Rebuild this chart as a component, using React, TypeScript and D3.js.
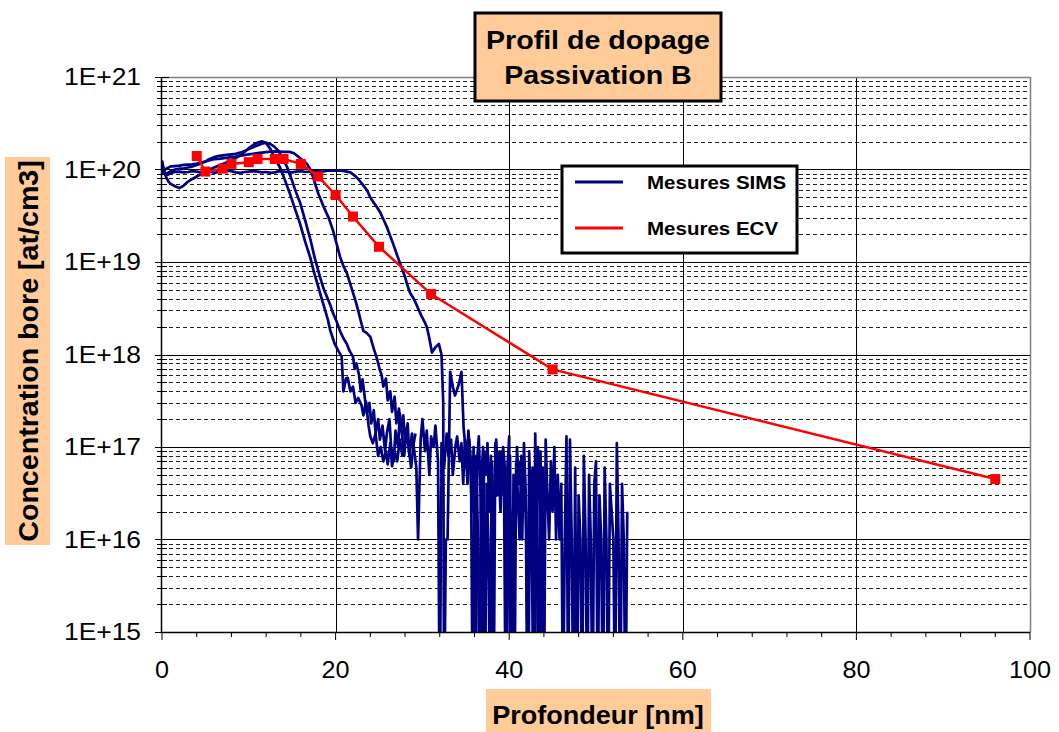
import * as d3 from 'd3';
import React from 'react';

type Pt = [number, number];

// SIMS profiles: [depth (nm), concentration (at/cm3)]; 0 = below detection limit
const simsA: Pt[] = [
  [0, 1.25e20], [0.25, 9.5e19], [0.5, 8.2e19], [0.75, 7.4e19], [1, 7e19], [1.5, 6.6e19], [2, 6.3e19],
  [2.5, 6.7e19], [3, 7.4e19], [3.5, 7.9e19], [4, 8.4e19], [4.5, 8.9e19], [5, 9.4e19], [5.5, 1e20],
  [6, 1.05e20], [6.5, 1.1e20], [7, 1.15e20], [7.5, 1.2e20], [8, 1.26e20], [8.5, 1.33e20], [9, 1.42e20],
  [9.5, 1.55e20], [10, 1.7e20], [10.5, 1.84e20], [11, 1.95e20], [11.5, 2.02e20], [12, 1.92e20],
  [12.5, 1.66e20], [13, 1.32e20], [13.6, 1.05e20], [14.2, 7.5e19], [14.7, 5.6e19], [15.3, 3.8e19],
  [15.9, 2.6e19], [16.5, 1.65e19], [17.1, 1.1e19], [17.5, 7.8e18], [18, 5.4e18], [18.4, 4e18],
  [18.8, 3e18], [19.1, 2.4e18], [19.4, 1.8e18], [19.9, 1.3e18], [20.3, 1.1e18], [20.7, 9.5e17],
  [20.9, 4e17], [21.2, 5.5e17], [21.4, 5.6e17], [21.7, 4e17], [22, 4.5e17], [22.3, 3e17], [22.6, 3.4e17],
  [23, 2.8e17], [23.2, 2.2e17], [23.5, 3.1e17], [23.8, 1.7e17], [24, 1.3e17], [24.3, 1.1e17],
  [24.6, 1.4e17], [24.9, 8e16], [25.2, 1e17], [25.5, 7e16], [25.8, 9e16], [26, 6.5e16], [26.3, 1.1e17],
  [26.5, 6.2e16], [26.8, 9e16], [27.1, 7e16], [27.4, 1.2e17], [27.7, 8e16],
];

const simsB: Pt[] = [
  [0, 1.05e20], [0.25, 9.3e19], [0.5, 9e19], [1, 9.6e19], [1.5, 1e20], [2, 1.02e20], [2.5, 1.03e20],
  [3, 1.05e20], [3.5, 1.08e20], [4, 1.12e20], [4.5, 1.16e20], [5, 1.22e20], [5.5, 1.3e20], [6, 1.36e20],
  [6.5, 1.4e20], [7, 1.42e20], [7.5, 1.44e20], [8, 1.46e20], [8.5, 1.48e20], [9, 1.52e20], [9.5, 1.58e20],
  [10, 1.66e20], [10.5, 1.74e20], [11, 1.82e20], [11.5, 1.9e20], [11.9, 1.95e20], [12.4, 1.9e20],
  [12.9, 1.78e20], [13.4, 1.6e20], [13.9, 1.32e20], [14.4, 1.07e20], [15, 7.5e19], [15.4, 5.8e19],
  [15.9, 4.4e19], [16.5, 2.8e19], [17.1, 1.75e19], [17.6, 1.1e19], [18.2, 6.9e18], [18.6, 5.2e18],
  [19, 4.2e18], [19.4, 3.4e18], [19.7, 2.8e18], [20.1, 2.3e18], [20.5, 1.8e18], [20.9, 1.5e18],
  [21.3, 1.3e18], [21.6, 1.1e18], [22, 9.5e17], [22.2, 7e17], [22.4, 8e17], [22.7, 6e17], [22.9, 4e17],
  [23.1, 5.4e17], [23.4, 3.2e17], [23.6, 2.3e17], [23.9, 3e17], [24.1, 1.8e17], [24.4, 2.5e17],
  [24.6, 1.4e17], [24.9, 2e17], [25.1, 1.2e17], [25.4, 1.7e17], [25.7, 9e16], [25.9, 1.4e17],
  [26.2, 2e17], [26.4, 1e17], [26.7, 7e16], [26.9, 1.5e17], [27.2, 1e17], [27.4, 2.3e17], [27.7, 1.2e17],
  [27.9, 8e16], [28.2, 1.6e17], [28.4, 1e17], [28.7, 6e16], [29, 1.1e17], [29.2, 1.4e17],
];

const simsC: Pt[] = [
  [0, 9e19], [0.25, 9.8e19], [0.5, 1.02e20], [1, 1.08e20], [1.5, 1.09e20], [2, 1.1e20], [2.5, 1.12e20],
  [3, 1.13e20], [3.5, 1.14e20], [4, 1.16e20], [4.5, 1.19e20], [5, 1.22e20], [5.5, 1.26e20], [6, 1.29e20],
  [6.5, 1.3e20], [7, 1.32e20], [7.5, 1.34e20], [8, 1.36e20], [8.5, 1.38e20], [9, 1.41e20], [9.5, 1.43e20],
  [10, 1.46e20], [10.5, 1.48e20], [11, 1.5e20], [11.5, 1.52e20], [12, 1.54e20], [12.5, 1.56e20],
  [13, 1.57e20], [13.5, 1.56e20], [14, 1.55e20], [14.7, 1.55e20], [15.2, 1.5e20], [15.7, 1.38e20],
  [16.2, 1.25e20], [16.7, 1.15e20], [17.1, 1e20], [17.4, 8.3e19], [18, 5.5e19], [18.6, 4e19],
  [19.2, 3e19], [19.7, 2.2e19], [20.1, 1.6e19], [20.5, 1.15e19], [20.9, 9e18], [21.3, 7.6e18],
  [21.9, 5e18], [22.3, 3.8e18], [22.6, 3e18], [22.9, 2.3e18], [23.2, 1.8e18], [23.6, 1.7e18],
  [24, 1.55e18], [24.4, 1.15e18], [24.7, 9.5e17], [25.1, 6.8e17], [25.3, 6e17], [25.5, 4.5e17],
  [25.8, 5.5e17], [26, 3.2e17], [26.3, 4e17], [26.5, 2.4e17], [26.8, 3.5e17], [27, 1.8e17], [27.3, 2.6e17],
  [27.5, 1.5e17], [27.8, 2.2e17], [28, 1.1e17], [28.3, 1.8e17], [28.5, 8e16], [28.8, 1.4e17], [29, 1e17],
  [29.3, 6e16], [29.5, 1e16], [29.8, 1.2e17], [30, 2e17], [30.3, 9e16], [30.5, 1.5e17], [30.8, 5e16],
  [31, 1.3e17], [31.3, 1e17], [31.5, 1.7e17], [31.8, 7e16], [32, 0], [32.2, 1.1e17], [32.5, 6e16],
  [32.8, 1.4e17], [33, 8e16], [33.3, 1.2e17], [33.5, 5e16], [33.8, 1e17], [34, 1.3e17], [34.3, 7e16],
  [34.5, 1.1e17], [34.7, 4e16], [34.9, 1.2e17], [35.1, 6e16], [35.3, 1.5e17], [35.5, 8e16], [35.7, 2e16],
  [35.9, 1e17], [36.1, 0], [36.3, 7e16], [36.5, 1.3e17], [36.7, 3e16], [36.9, 0], [37.1, 9e16],
  [37.3, 5e16], [37.5, 1.1e17], [37.7, 2e16], [37.9, 8e16], [38.1, 0], [38.3, 4e16], [38.5, 1.2e17],
  [38.7, 5e16], [38.9, 9e16], [39.1, 3e16], [39.3, 1e17], [39.5, 6e16], [39.7, 0], [39.9, 2e16],
  [40.1, 8e16], [40.3, 0], [40.5, 5e16], [40.7, 1e16], [40.9, 1e17], [41.1, 4e16], [41.3, 7e16],
  [41.5, 1e16], [41.7, 1.1e17], [41.9, 3e16], [42.1, 0], [42.3, 9e16], [42.5, 2e16], [42.7, 6e16],
  [42.9, 0], [43.1, 1e16], [43.3, 1e17], [43.5, 3e16], [43.7, 0], [43.9, 6e16], [44.1, 2e16],
];

const simsD: Pt[] = [
  [0, 1.2e20], [0.3, 9e19], [0.7, 8.8e19], [1, 9.2e19], [1.5, 9.4e19], [2, 9.5e19], [2.5, 9.3e19],
  [3, 9.4e19], [3.5, 9.6e19], [4, 9.5e19], [4.5, 9.3e19], [5, 9.4e19], [5.5, 9.6e19], [6, 9.2e19],
  [6.5, 9.4e19], [7, 9.5e19], [7.5, 9.7e19], [8, 9.6e19], [8.5, 9.3e19], [9, 9.2e19], [9.5, 9.4e19],
  [10, 9.5e19], [10.5, 9.6e19], [11, 9.5e19], [11.5, 9.3e19], [12, 9.4e19], [12.5, 9.2e19], [13, 9.3e19],
  [13.5, 9.6e19], [14, 9.5e19], [14.5, 9.4e19], [15, 9.3e19], [15.5, 9.5e19], [16, 9.6e19], [16.5, 9.4e19],
  [17, 9.5e19], [17.5, 9.7e19], [18, 9.6e19], [18.5, 9.5e19], [19, 9.7e19], [19.5, 9.8e19], [20, 9.7e19],
  [20.5, 9.8e19], [21, 9.6e19], [21.7, 9.3e19], [22.2, 8.6e19], [22.6, 7.9e19], [23.1, 6.9e19],
  [23.6, 6e19], [24, 5e19], [24.3, 4.5e19], [24.7, 4e19], [25.1, 3.5e19], [25.5, 2.9e19], [25.9, 2.4e19],
  [26.3, 1.9e19], [26.6, 1.6e19], [27, 1.25e19], [27.4, 9.8e18], [28, 6.9e18], [28.3, 5.5e18],
  [28.6, 4.6e18], [29, 4e18], [29.3, 3.5e18], [29.6, 3e18], [29.9, 2.6e18], [30.2, 2.3e18], [30.5, 2e18],
  [30.8, 1.5e18], [31.1, 1.05e18], [31.5, 1.2e18], [31.9, 1.3e18], [32.2, 1e18], [32.4, 3e17], [32.5, 0],
  [32.7, 1e16], [32.9, 1e16], [33.2, 6.5e17], [33.5, 4.5e17], [33.75, 3.6e17], [34, 4.2e17],
  [34.25, 5e17], [34.5, 6.5e17], [34.75, 1.6e17],
  [35, 9e16], [35.2, 4e16], [35.4, 1.2e17], [35.6, 6e16], [35.8, 0], [36, 3e16], [36.2, 8e16], [36.4, 1e16],
  [36.6, 0], [36.8, 5e16], [37, 1e17], [37.2, 0], [37.4, 4e16], [37.6, 1e16], [37.8, 0], [38, 7e16],
  [38.2, 0], [38.4, 1.1e17], [38.6, 3e16], [38.8, 6e16], [39, 2e16], [39.2, 9e16], [39.4, 4e16],
  [39.6, 0], [39.8, 6e16], [40, 1.3e17], [40.2, 0], [40.4, 2e16], [40.6, 0], [40.8, 7e16], [41, 3e16],
  [41.2, 1e16], [41.4, 8e16], [41.6, 2e16], [41.8, 5e16], [42, 1e16], [42.2, 0], [42.4, 6e16],
  [42.6, 1e16], [42.8, 0], [43, 1.4e17], [43.2, 1e16], [43.4, 0], [43.6, 9e16], [43.8, 1e16], [44, 0],
  [44.2, 1.2e17], [44.4, 3e16], [44.6, 1e16], [44.8, 7e16], [45, 2e16], [45.2, 1e17], [45.4, 1e16],
  [45.6, 5e16], [45.8, 1e16], [46, 4e16], [46.2, 0], [46.4, 1e16], [46.6, 1.3e17], [46.8, 0],
  [47, 1.2e17], [47.2, 1e16], [47.4, 0], [47.6, 6e16], [47.8, 0], [48, 3e16], [48.2, 1e16], [48.4, 0],
  [48.6, 8e16], [48.8, 1e16], [49, 0], [49.2, 5e16], [49.4, 1e16], [49.6, 0], [49.8, 4e16], [50, 7e16],
  [50.2, 0], [50.4, 3e16], [50.6, 1e16], [50.8, 0], [51, 6e16], [51.2, 1e16], [51.4, 0], [51.6, 4e16],
  [51.8, 2e16], [52, 1e16], [52.2, 0], [52.4, 1.1e17], [52.6, 1e16], [52.8, 0], [53, 4e16], [53.2, 1e16],
  [53.4, 0], [53.6, 2e16],
];

const simsSeries = [simsA, simsB, simsC, simsD];

// ECV measurements
const ecvDepth = [4, 5, 7, 8, 10, 11, 13, 14, 16, 18, 20, 22, 25, 31, 45, 96];
const ecvConc = [
  1.4e20, 9.5e19, 1.02e20, 1.15e20, 1.2e20, 1.3e20, 1.3e20, 1.3e20, 1.15e20, 8.4e19, 5.3e19, 3.1e19,
  1.46e19, 4.5e18, 6.9e17, 4.5e16,
];

const xTicks = [0, 20, 40, 60, 80, 100];
const yDecades = [1e15, 1e16, 1e17, 1e18, 1e19, 1e20, 1e21];
const yTickLabels = ['1E+15', '1E+16', '1E+17', '1E+18', '1E+19', '1E+20', '1E+21'];

const titleLines = ['Profil de dopage', 'Passivation B'];
const legendLabels = ['Mesures SIMS', 'Mesures ECV'];

const FONT = "Arial, 'Liberation Sans', sans-serif";
const ORANGE = '#FFCC99';
const NAVY = '#000080';
const RED = '#FF0000';

interface STextProps {
  x: number;
  y: number;
  size: number;
  sx?: number;
  bold?: boolean;
  anchor?: 'start' | 'middle' | 'end';
  rotate?: number;
  children: React.ReactNode;
}

// text slightly stretched horizontally, like the original picture
const SText: React.FC<STextProps> = ({ x, y, size, sx = 1.1, bold = false, anchor = 'middle', rotate, children }) => (
  <text
    transform={`translate(${x},${y})${rotate ? ` rotate(${rotate})` : ''} scale(${sx},1)`}
    textAnchor={anchor}
    fontSize={size}
    fontWeight={bold ? 'bold' : 'normal'}
    fontFamily={FONT}
    fill="#000"
  >
    {children}
  </text>
);

const App: React.FC = () => {
  const width = 1059;
  const height = 732;
  const margin = { top: 77, left: 162, right: 29, bottom: 100 };
  const innerWidth = width - margin.left - margin.right;
  const innerHeight = height - margin.top - margin.bottom;

  const x = d3.scaleLinear().domain([0, 100]).range([0, innerWidth]);
  const y = d3.scaleLog().domain([1e15, 1e21]).range([innerHeight, 0]);

  const line = d3
    .line<Pt>()
    .x((d) => x(d[0]))
    .y((d) => y(Math.max(d[1], 1e14)));

  const ecvPoints: Pt[] = ecvDepth.map((d, i) => [d, ecvConc[i]]);

  const minorY: number[] = [];
  yDecades.slice(0, -1).forEach((dec) => {
    for (let k = 2; k <= 9; k++) minorY.push(dec * k);
  });
  const minorX = d3.range(0, 101, 4).filter((v) => v % 20 !== 0);

  return (
    <svg
      width={width}
      height={height}
      style={{ position: 'absolute', left: 0, top: 0, background: '#fff' }}
      role="img"
      aria-label="Profil de dopage"
    >
      <defs>
        <clipPath id="plot-clip">
          <rect x={0} y={-4} width={innerWidth} height={innerHeight + 4} />
        </clipPath>
      </defs>

      <g transform={`translate(${margin.left},${margin.top})`}>
        {/* minor dashed grid */}
        {minorY.map((v) => (
          <line
            key={`my-${v}`}
            x1={0}
            x2={innerWidth}
            y1={Math.round(y(v)) + 0.5}
            y2={Math.round(y(v)) + 0.5}
            stroke="#222"
            strokeDasharray="4,3"
            strokeWidth={1}
          />
        ))}
        {/* major grid */}
        {yDecades.slice(0, -1).map((v) => (
          <line
            key={`gy-${v}`}
            x1={0}
            x2={innerWidth}
            y1={Math.round(y(v)) + 0.5}
            y2={Math.round(y(v)) + 0.5}
            stroke="#000"
            strokeWidth={1}
          />
        ))}
        {xTicks.slice(1, -1).map((t) => (
          <line
            key={`gx-${t}`}
            x1={Math.round(x(t)) + 0.5}
            x2={Math.round(x(t)) + 0.5}
            y1={0}
            y2={innerHeight}
            stroke="#000"
            strokeWidth={1}
          />
        ))}
        {/* top & right border */}
        <line x1={0} x2={innerWidth} y1={0.5} y2={0.5} stroke="#808080" strokeWidth={1.5} />
        <line x1={innerWidth + 0.5} x2={innerWidth + 0.5} y1={0} y2={innerHeight} stroke="#808080" strokeWidth={1.5} />

        {/* SIMS curves */}
        <g clipPath="url(#plot-clip)">
          {simsSeries.map((s, i) => (
            <path key={`sims-${i}`} d={line(s) ?? ''} fill="none" stroke={NAVY} strokeWidth={2.7} strokeLinejoin="round" />
          ))}
        </g>

        {/* ECV */}
        <path d={line(ecvPoints) ?? ''} fill="none" stroke={RED} strokeWidth={2.5} />
        {ecvPoints.map((p, i) => (
          <rect key={`ecv-${i}`} x={x(p[0]) - 5} y={y(p[1]) - 5} width={10} height={10} fill={RED} />
        ))}

        {/* axes */}
        <line x1={-0.5} x2={-0.5} y1={0} y2={innerHeight} stroke="#000" strokeWidth={1.5} />
        <line x1={0} x2={innerWidth} y1={innerHeight + 0.5} y2={innerHeight + 0.5} stroke="#000" strokeWidth={1.5} />
        {minorY.map((v) => (
          <line key={`ty-${v}`} x1={-5} x2={5} y1={Math.round(y(v)) + 0.5} y2={Math.round(y(v)) + 0.5} stroke="#000" />
        ))}
        {yDecades.map((v, i) => (
          <g key={`tyl-${v}`}>
            <line x1={-7} x2={7} y1={Math.round(y(v)) + 0.5} y2={Math.round(y(v)) + 0.5} stroke="#000" />
            <SText x={-21} y={y(v) + 8} size={24} sx={1.1} anchor="end">
              {yTickLabels[i]}
            </SText>
          </g>
        ))}
        {minorX.map((t) => (
          <line key={`tx-${t}`} x1={x(t)} x2={x(t)} y1={innerHeight} y2={innerHeight + 5} stroke="#000" />
        ))}
        {xTicks.map((t) => (
          <g key={`txl-${t}`}>
            <line x1={x(t)} x2={x(t)} y1={innerHeight} y2={innerHeight + 8} stroke="#000" />
            <SText x={x(t)} y={innerHeight + 46} size={24} sx={1.05}>
              {t}
            </SText>
          </g>
        ))}
      </g>

      {/* legend */}
      <rect x={562} y={166} width={235} height={87} fill="#fff" stroke="#000" strokeWidth={3} />
      <line x1={575} x2={623} y1={182} y2={182} stroke={NAVY} strokeWidth={3} />
      <line x1={575} x2={623} y1={228} y2={228} stroke={RED} strokeWidth={3} />
      <SText x={647} y={189} size={19} sx={1.08} bold anchor="start">
        {legendLabels[0]}
      </SText>
      <SText x={647} y={235} size={19} sx={1.08} bold anchor="start">
        {legendLabels[1]}
      </SText>

      {/* title */}
      <rect x={475} y={13} width={246} height={88} fill={ORANGE} stroke="#000" strokeWidth={3} />
      <SText x={598} y={49} size={26} sx={1.1} bold>
        {titleLines[0]}
      </SText>
      <SText x={598} y={84} size={26} sx={1.1} bold>
        {titleLines[1]}
      </SText>

      {/* y axis title */}
      <rect x={5} y={157} width={45} height={388} fill={ORANGE} />
      <SText x={38} y={351} size={27} sx={1.06} bold rotate={-90}>
        Concentration bore [at/cm3]
      </SText>

      {/* x axis title */}
      <rect x={486} y={689} width={225} height={43} fill={ORANGE} />
      <SText x={598} y={724} size={26} sx={1.04} bold>
        Profondeur [nm]
      </SText>
    </svg>
  );
};

export default App;
